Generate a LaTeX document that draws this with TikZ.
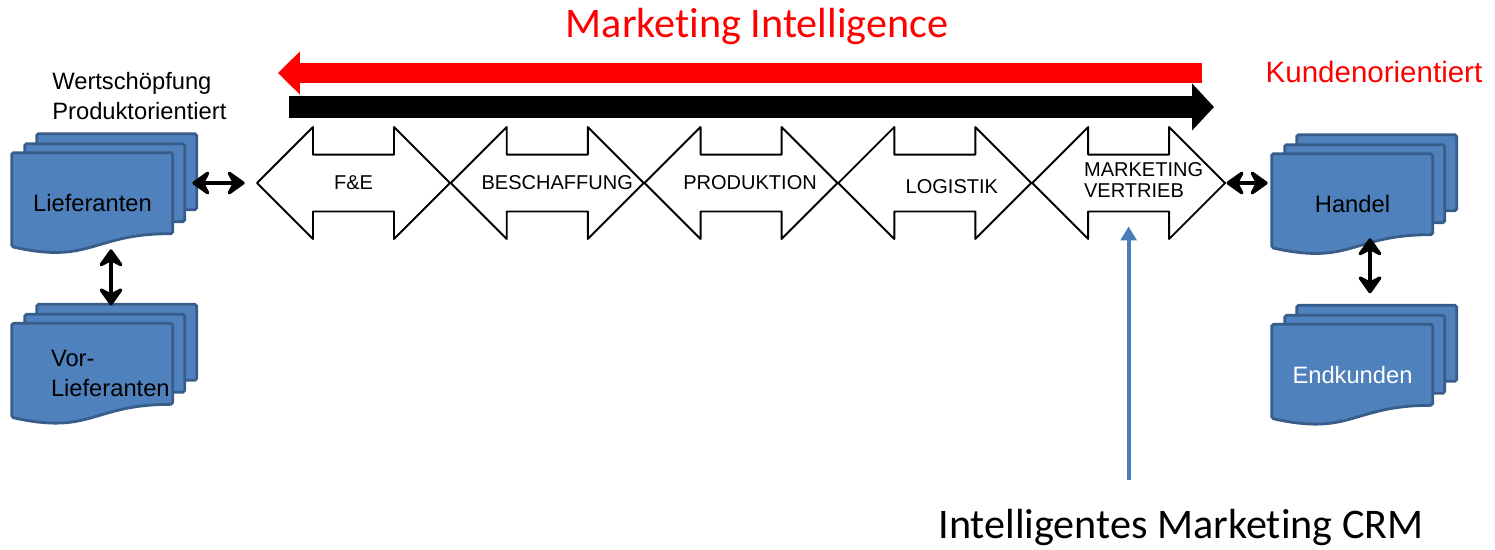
\documentclass[tikz,border=0pt]{standalone}
\usepackage{fontspec}
\setmainfont{Liberation Sans}
\newfontfamily\calibri[Ligatures=NoCommon]{Carlito}
\usetikzlibrary{positioning,shapes.arrows,arrows.meta,backgrounds}
\definecolor{docblue}{HTML}{4F81BD}
\definecolor{docedge}{HTML}{385D8A}
\definecolor{crmblue}{HTML}{4A7EBB}
\begin{document}
\begin{tikzpicture}[x=0.02cm, y=-0.02cm,
                    line join=round,
                    font=\fontsize{13.5}{17}\selectfont,
                    ]
    \tikzstyle{stage}=[double arrow,draw,line width=1.1pt,fill=white,minimum height=3.86cm,minimum width=2.2cm,
                       double arrow head extend=0.55cm,double arrow tip angle=90,inner xsep=0pt,inner ysep=0.55cm]
    \tikzstyle{stagetext}=[font=\fontsize{11.4}{12.5}\selectfont,align=left,inner sep=0pt]
    \tikzstyle{docs}=[minimum width=3.22cm,minimum height=2cm,inner sep=0pt]
    \tikzstyle{sheet}=[draw=docedge,fill=docblue,line width=1.6pt,rounded corners=1pt]
    \tikzstyle{link}=[line width=2.8pt,
                      {Stealth[length=12pt,width=17pt,inset=4.5pt,round]}-{Stealth[length=12pt,width=17pt,inset=4.5pt,round]}]
    \tikzstyle{flow}=[line width=0.4cm,-{Triangle[length=0.44cm,width=0.84cm]}]
    \tikzstyle{crm}=[crmblue,line width=2.2pt,-{Triangle[length=8pt,width=9pt]}]
    \tikzstyle{bigtext}=[font=\calibri\fontsize{24}{28}\selectfont,inner sep=0pt]

    \useasboundingbox (0,0) rectangle (1495,549);

    \node[bigtext, text=red] (mi) at (757,26) {Marketing Intelligence};
    \node[text=red, font=\fontsize{16.8}{20}\selectfont, inner sep=0pt] (kunde) at (1374,72) {Kundenorientiert};
    \node[align=left, anchor=west, inner sep=0pt] (wert) at (52,96) {Wertschöpfung\\Produktorientiert};

    \coordinate (mi-start) at (1202,73);
    \coordinate (mi-end) at (278,73);
    \draw[flow, red] (mi-start) -- (mi-end);
    \coordinate (wk-start) at (289,107);
    \coordinate (wk-end) at (1214,107);
    \draw[flow, black, line width=0.44cm, -{Triangle[length=0.44cm,width=0.92cm]}] (wk-start) -- (wk-end);

    \node[stage, label={[stagetext]center:F\&E}] (fe) at (353.5,183) {};
    \node[stage, right=-1.1pt of fe, label={[stagetext, xshift=0.2cm]center:BESCHAFFUNG}] (besch) {};
    \node[stage, right=-1.1pt of besch, label={[stagetext, xshift=0.18cm]center:PRODUKTION}] (prod) {};
    \node[stage, right=-1.1pt of prod, label={[stagetext, xshift=0.34cm, yshift=-0.08cm]center:LOGISTIK}] (logi) {};
    \node[stage, right=-1.1pt of logi, label={[stagetext, xshift=0.3cm, yshift=0.06cm]center:MARKETING\\VERTRIEB}] (mkt) {};

    \node[docs] (lief) at (92.5,203) {Lieferanten};
    \node[docs, below=1.4cm of lief, align=left, text width=3.22cm] (vorlief)
        {\hspace*{0.78cm}Vor-\\\hspace*{0.78cm}Lieferanten};
    \node[docs] (handel) at (1352.5,204) {Handel};
    \node[docs, below=1.4cm of handel, text=white] (endk) {Endkunden};

    \begin{scope}[on background layer]
        \foreach \d in {lief,vorlief,handel,endk}{
            \begin{scope}[shift={(\d.north west)}]
                \draw[sheet] (25,-19) rectangle (185,57);
                \draw[sheet] (13,-9) rectangle (173,69);
                \draw[sheet] (0,0) -- (161,0) -- (161,81) .. controls (80,81) and (80,112) .. (0,94) -- cycle;
            \end{scope}
        }
    \end{scope}

    \draw[link, shorten <=0.38cm, shorten >=0.22cm] (lief.east |- fe.west) -- (fe.west);
    \draw[link, shorten >=0.08cm] (mkt.east) -- (handel.west |- mkt.east);
    \draw[link, shorten <=-0.08cm, shorten >=0.36cm] ([xshift=0.37cm]lief.south) -- ([xshift=0.37cm]vorlief.north);
    \draw[link, shorten <=-0.32cm, shorten >=0.62cm] ([xshift=0.35cm]handel.south) -- ([xshift=0.35cm]endk.north);

    \node[bigtext] (crmtext) at (1181,527) {Intelligentes Marketing CRM};
    \draw[crm, shorten <=0.57cm, shorten >=0.28cm] (mkt.south |- crmtext.north) -- (mkt.south);
\end{tikzpicture}
\end{document}
